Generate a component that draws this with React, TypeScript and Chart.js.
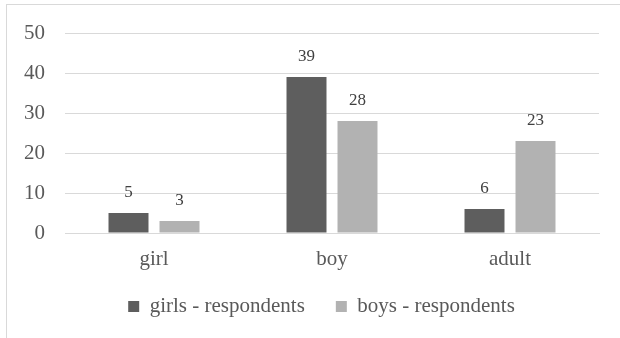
import { useEffect, useRef } from "react";
import { Chart, registerables } from "chart.js";

Chart.register(...registerables);

const categories = ["girl", "boy", "adult"];
const seriesNames = ["girls - respondents", "boys - respondents"];
const girlsRespondents = [5, 39, 6];
const boysRespondents = [3, 28, 23];
const yMin = 0;
const yMax = 50;
const yStep = 10;

const FONT = "'Liberation Serif', 'Times New Roman', Times, serif";
const LEGEND_SHIFT = 22;

const valueLabels = {
  id: "valueLabels",
  afterDatasetsDraw(chart: any) {
    const ctx = chart.ctx;
    ctx.save();
    ctx.font = `17px ${FONT}`;
    ctx.fillStyle = "#404040";
    ctx.textAlign = "center";
    ctx.textBaseline = "middle";
    chart.data.datasets.forEach((ds: any, i: number) => {
      chart.getDatasetMeta(i).data.forEach((bar: any, j: number) => {
        ctx.fillText(String(ds.data[j]), bar.x, bar.y - 20);
      });
    });
    ctx.restore();
  },
};

const legendShift = {
  id: "legendShift",
  afterLayout(chart: any) {
    const lg = chart.legend;
    if (lg) {
      lg.left += LEGEND_SHIFT;
      lg.right += LEGEND_SHIFT;
    }
  },
};

export default function App() {
  const ref = useRef<HTMLCanvasElement | null>(null);

  useEffect(() => {
    if (!ref.current) return;
    const chart = new Chart(ref.current, {
      type: "bar",
      data: {
        labels: categories,
        datasets: [
          {
            label: seriesNames[0],
            data: girlsRespondents,
            backgroundColor: "#5e5e5e",
            categoryPercentage: 0.573,
            barPercentage: 0.784,
          },
          {
            label: seriesNames[1],
            data: boysRespondents,
            backgroundColor: "#b2b2b2",
            categoryPercentage: 0.573,
            barPercentage: 0.784,
          },
        ],
      },
      options: {
        responsive: false,
        animation: false,
        layout: { padding: { top: 33, right: 45, left: 0, bottom: 0 } },
        plugins: {
          tooltip: { enabled: false },
          legend: {
            position: "bottom",
            labels: {
              boxWidth: 11,
              boxHeight: 11,
              padding: 10,
              color: "#595959",
              font: { family: FONT, size: 21 },
              generateLabels(chart: any) {
                const items = Chart.defaults.plugins.legend.labels.generateLabels(chart);
                return items.map((it: any, i: number) =>
                  i < items.length - 1 ? { ...it, text: it.text + "    " } : it
                );
              },
            },
          },
        },
        scales: {
          x: {
            grid: { display: false, drawTicks: false },
            border: { display: true, color: "#d9d9d9", width: 1 },
            ticks: {
              color: "#595959",
              font: { family: FONT, size: 21 },
              padding: 14,
            },
            afterFit(scale: any) {
              scale.height = 53;
            },
          },
          y: {
            min: yMin,
            max: yMax,
            ticks: {
              stepSize: yStep,
              color: "#595959",
              font: { family: FONT, size: 21 },
              padding: 20,
            },
            grid: { color: "#d9d9d9", drawTicks: false, lineWidth: 1 },
            border: { display: false },
            afterFit(scale: any) {
              scale.width = 65;
            },
          },
        },
      },
      plugins: [valueLabels, legendShift],
    });
    const fonts: any = (document as any).fonts;
    if (fonts && fonts.load) {
      Promise.all([
        fonts.load("21px 'Liberation Serif'"),
        fonts.load("17px 'Liberation Serif'"),
      ])
        .then(() => chart.update())
        .catch(() => {});
    }
    return () => chart.destroy();
  }, []);

  return (
    <div
      style={{
        position: "fixed",
        left: 0,
        top: 0,
        width: 620,
        height: 338,
        overflow: "hidden",
        background: "#fff",
      }}
    >
      <div
        style={{
          position: "absolute",
          left: 6,
          top: 4,
          width: 700,
          height: 400,
          border: "1px solid #d9d9d9",
          boxSizing: "border-box",
        }}
      />
      <canvas
        ref={ref}
        width={644}
        height={327}
        style={{ position: "absolute", left: 0, top: 0, width: 644, height: 327 }}
      />
    </div>
  );
}
